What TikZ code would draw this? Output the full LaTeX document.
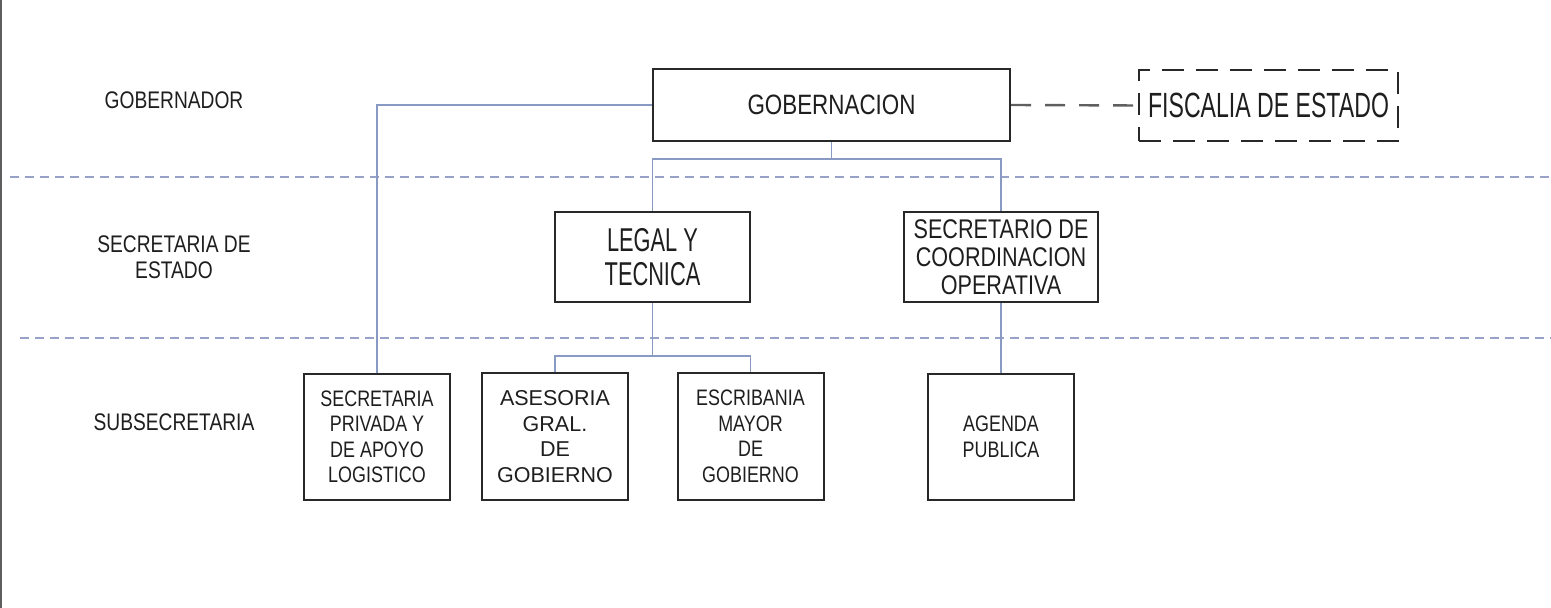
\documentclass[tikz,border=0pt]{standalone}
\usepackage{fontspec}
\setmainfont{Liberation Sans}[FakeStretch=0.8]
\newfontfamily\narrowfont{Liberation Sans}[FakeStretch=0.66]
\newfontfamily\plainfont{Liberation Sans}
\definecolor{boxgray}{RGB}{40,40,40}
\definecolor{textgray}{RGB}{30,30,30}
\definecolor{linkblue}{RGB}{136,154,196}
\definecolor{sepblue}{RGB}{152,162,200}
\definecolor{framegray}{RGB}{95,95,95}

\begin{document}
\begin{tikzpicture}[x=0.5pt,y=-0.5pt,
    box/.style={draw=boxgray,line width=1pt,align=center,inner sep=0pt,text=textgray},
    subbox/.style={box,minimum width=73pt,minimum height=63pt,font=\fontsize{11.2}{12.75}\selectfont},
    level/.style={align=center,text=textgray,font=\fontsize{12}{13}\selectfont},
    link/.style={draw=linkblue,line width=0.8pt},
    sepline/.style={draw=sepblue,line width=0.8pt,dash pattern=on 4.5pt off 3pt},
    fiscline/.style={draw=framegray,line width=1.2pt,dash pattern=on 10pt off 7pt}
                ]
            \useasboundingbox (0,0) rectangle (1551,608);
            \draw[framegray,line width=1pt] (1,0) -- (1,608);

            \draw[sepline] (10,177) -- (1551,177);
            \draw[sepline] (20,338) -- (1551,338);

            \node[level] (lgob) at (174,100) {GOBERNADOR};
            \node[level] (lsec) at (174,257) {SECRETARIA DE\\ESTADO};
            \node[level] (lsub) at (174,422) {SUBSECRETARIA};

            \node[box,minimum width=178.5pt,minimum height=36pt,font=\fontsize{14}{15}\selectfont] (gob) at (831.5,105) {GOBERNACION};
            \node[box,dash pattern=on 11pt off 6pt,minimum width=129.5pt,minimum height=35.5pt,font=\narrowfont\fontsize{17.5}{19}\selectfont] (fisc) at (1268.5,105.5) {FISCALIA DE ESTADO};

            \node[box,minimum width=97.5pt,minimum height=45pt,font=\narrowfont\fontsize{16.5}{17}\selectfont] (legal) at (652.5,257) {LEGAL Y\\TECNICA};
            \node[box,minimum width=97pt,minimum height=45pt,font=\fontsize{13.5}{14}\selectfont] (secop) at (1001,257) {SECRETARIO DE\\COORDINACION\\OPERATIVA};

            \node[subbox] (priv) at (377,437) {SECRETARIA\\PRIVADA Y\\DE APOYO\\LOGISTICO};
            \node[subbox,font=\plainfont\fontsize{10.75}{12.75}\selectfont] (ases) at (555,436.5) {ASESORIA\\GRAL.\\DE\\GOBIERNO};
            \node[subbox] (escr) at (750.5,436.5) {ESCRIBANIA\\MAYOR\\DE\\GOBIERNO};
            \node[subbox] (agen) at (1001,437) {AGENDA\\PUBLICA};

            \draw[fiscline] (gob.east) -- (fisc.west);

            \draw[link] (gob.west) -| (priv.north);
            \draw[link] (gob.south) -- ++(0,17) coordinate (gobj);
            \draw[link] (legal.north) |- (gobj) -| (secop.north);
            \draw[link] (legal.south) -- ++(0,53) coordinate (legj);
            \draw[link] (ases.north) |- (legj) -| (escr.north);
            \draw[link] (secop.south) -- (agen.north);

            \end{tikzpicture}
\end{document}
